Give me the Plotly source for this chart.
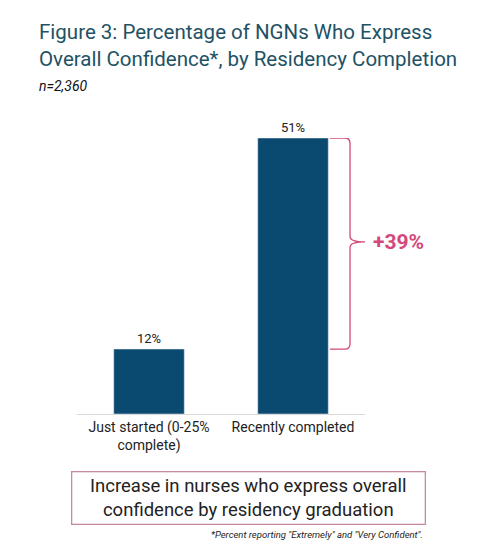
import plotly.graph_objects as go

categories = ["Just started (0-25%<br>complete)", "Recently completed"]
values = [12, 51]
labels = ["12%", "51%"]
diff_label = "+39%"

navy = "#0b4a70"
pink = "#d4487c"
font = "Roboto"

fig = go.Figure(go.Bar(
    x=categories, y=values, text=labels, textposition="outside",
    textfont=dict(size=13, color="#222", family=font),
    marker_color=navy, width=0.49, cliponaxis=False,
))

# bracket from 12% up to 51%, drawn just right of the second bar
lo, hi = values[0], values[1]
mid = (lo + hi) / 2 + 0.3
fig.add_shape(type="path", xref="paper", yref="y", line=dict(color=pink, width=1.3),
              path=f"M 0.878 {hi} L 0.93 {hi} Q 0.948 {hi} 0.948 {hi-1} L 0.948 {mid+1} "
                   f"Q 0.948 {mid} 1.0 {mid} Q 0.948 {mid} 0.948 {mid-1} L 0.948 {lo+1} "
                   f"Q 0.948 {lo} 0.93 {lo} L 0.878 {lo}")
fig.add_annotation(xref="paper", yref="y", x=1.02, y=mid, text=f"<b>{diff_label}</b>",
                   showarrow=False, xanchor="left", font=dict(size=21, color=pink, family=font))

fig.add_annotation(xref="paper", yref="paper", x=0.597, y=-0.303, yanchor="middle",
                   text="Increase in nurses who express overall<br>confidence by residency graduation",
                   showarrow=False, width=350, height=49, bordercolor="#c98a9e", borderwidth=1.3,
                   font=dict(size=18.5, color="#222", family=font))
fig.add_annotation(xref="paper", yref="paper", x=1.21, y=-0.438, xanchor="right", yanchor="middle",
                   text="<i>*Percent reporting \"Extremely\" and \"Very Confident\".</i>",
                   showarrow=False, font=dict(size=9.5, color="#222", family=font))

fig.add_annotation(xref="paper", yref="paper", x=-0.139, y=1.435, xanchor="left", yanchor="top",
                   text="Figure 3: Percentage of NGNs Who Express<br>Overall Confidence*, by Residency Completion",
                   showarrow=False, align="left",
                   font=dict(size=20.5, color="#1e5264", family=font))
fig.add_annotation(xref="paper", yref="paper", x=-0.139, y=1.225, xanchor="left", yanchor="top",
                   text="<i>n=2,360</i>", showarrow=False,
                   font=dict(size=14, color="#111", family=font))

fig.update_layout(
    width=490, height=549, margin=dict(l=69, r=133, t=130, b=143),
    plot_bgcolor="white", paper_bgcolor="white", showlegend=False,
    font=dict(family=font),
)
fig.update_xaxes(showline=True, linecolor="#d9d9d9", linewidth=1, ticks="",
                 tickfont=dict(size=14, color="#222", family=font))
fig.update_yaxes(range=[0, 51], visible=False)

fig.write_html("out.html")
